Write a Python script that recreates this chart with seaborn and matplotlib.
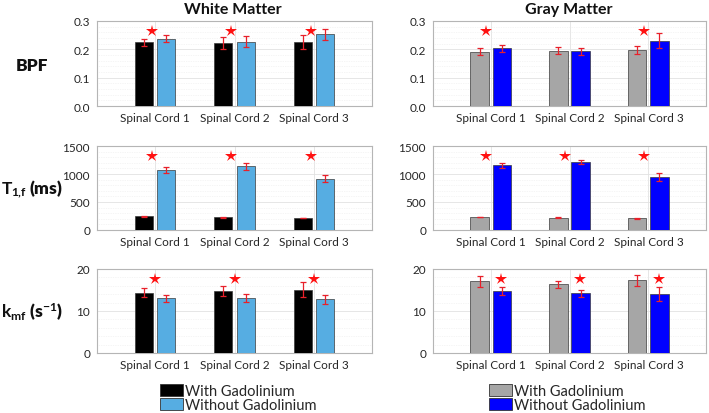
import numpy as np
import pandas as pd
import matplotlib
matplotlib.use("Agg")
import matplotlib.pyplot as plt
from matplotlib.ticker import AutoMinorLocator
from matplotlib.patches import Patch
from matplotlib.container import BarContainer
import seaborn as sns

sns.set_theme(style="white")
plt.rcParams['font.family'] = ['Lato', 'DejaVu Sans']
plt.rcParams['mathtext.fontset'] = 'custom'
plt.rcParams['mathtext.rm'] = 'Lato'
plt.rcParams['mathtext.bf'] = 'Lato:bold'
plt.rcParams['mathtext.it'] = 'Lato:italic'

# ---------------- data ----------------
cords = ["Spinal Cord 1", "Spinal Cord 2", "Spinal Cord 3"]
groups = ["With Gadolinium", "Without Gadolinium"]

wm_bpf_with = [0.225, 0.223, 0.225]
wm_bpf_with_err = [0.013, 0.021, 0.024]
wm_bpf_without = [0.237, 0.227, 0.253]
wm_bpf_without_err = [0.012, 0.020, 0.020]

gm_bpf_with = [0.191, 0.195, 0.197]
gm_bpf_with_err = [0.0125, 0.013, 0.015]
gm_bpf_without = [0.204, 0.193, 0.231]
gm_bpf_without_err = [0.0125, 0.013, 0.0275]

wm_t1_with = [245, 227, 215]
wm_t1_with_err = [6, 5, 6]
wm_t1_without = [1076, 1135, 914]
wm_t1_without_err = [55, 65, 63]

gm_t1_with = [234, 222, 210]
gm_t1_with_err = [6, 5, 5]
gm_t1_without = [1160, 1212, 942]
gm_t1_without_err = [45, 36, 70]

wm_k_with = [14.4, 14.7, 15.1]
wm_k_with_err = [1.07, 1.2, 1.8]
wm_k_without = [13.0, 13.1, 12.8]
wm_k_without_err = [0.83, 0.87, 1.1]

gm_k_with = [17.1, 16.4, 17.3]
gm_k_with_err = [1.3, 0.83, 1.26]
gm_k_without = [14.7, 14.2, 14.0]
gm_k_without_err = [0.9, 0.9, 1.6]

# significance markers per panel (True = star shown above group)
wm_bpf_sig = [True, True, True]
gm_bpf_sig = [True, False, True]
wm_t1_sig = [True, True, True]
gm_t1_sig = [True, True, True]
wm_k_sig = [True, True, True]
gm_k_sig = [True, True, True]

bpf_ticks = [0, 0.1, 0.2, 0.3]
t1_ticks = [0, 500, 1000, 1500]
k_ticks = [0, 10, 20]

# ---------------- styles ----------------
wm_colors = ["#000000", "#56ade2"]
gm_colors = ["#a6a6a6", "#0000ff"]
err_color = "#e8202a"
star_color = "#ff1010"

W, H = 709, 414
fig = plt.figure(figsize=(W / 100, H / 100), dpi=100)

col_x = [(97, 372), (433, 706)]
row_y = [(22, 107), (147, 231), (270, 354)]

def ax_rect(c, r):
    x0, x1 = col_x[c]
    y0, y1 = row_y[r]
    return [x0 / W, 1 - y1 / H, (x1 - x0) / W, (y1 - y0) / H]

panels = [
    (0, 0, wm_bpf_with, wm_bpf_with_err, wm_bpf_without, wm_bpf_without_err, wm_colors, bpf_ticks, wm_bpf_sig, -0.04),
    (1, 0, gm_bpf_with, gm_bpf_with_err, gm_bpf_without, gm_bpf_without_err, gm_colors, bpf_ticks, gm_bpf_sig, -0.06),
    (0, 1, wm_t1_with, wm_t1_with_err, wm_t1_without, wm_t1_without_err, wm_colors, t1_ticks, wm_t1_sig, -0.04),
    (1, 1, gm_t1_with, gm_t1_with_err, gm_t1_without, gm_t1_without_err, gm_colors, t1_ticks, gm_t1_sig, -0.06),
    (0, 2, wm_k_with, wm_k_with_err, wm_k_without, wm_k_without_err, wm_colors, k_ticks, wm_k_sig, 0.0),
    (1, 2, gm_k_with, gm_k_with_err, gm_k_without, gm_k_without_err, gm_colors, k_ticks, gm_k_sig, 0.135),
]

tick_color = "#262626"
for (c, r, vw, ew, vwo, ewo, colors, ticks, sig, sdx) in panels:
    ax = fig.add_axes(ax_rect(c, r))
    df = pd.DataFrame({
        "cord": cords * 2,
        "group": [groups[0]] * 3 + [groups[1]] * 3,
        "val": list(vw) + list(vwo),
    })
    sns.barplot(data=df, x="cord", y="val", hue="group", hue_order=groups,
                palette=colors, width=0.56, gap=0.18, errorbar=None,
                edgecolor="#3a3a3a", linewidth=0.5, legend=False, ax=ax,
                zorder=3, saturation=1)
    errs = [ew, ewo]
    vals = [vw, vwo]
    bar_conts = [cn for cn in ax.containers if isinstance(cn, BarContainer)]
    for gi, cont in enumerate(bar_conts):
        xs = [p.get_x() + p.get_width() / 2 for p in cont.patches]
        ax.errorbar(xs, vals[gi], yerr=errs[gi], fmt="none", ecolor=err_color,
                    elinewidth=0.9, capsize=2, capthick=0.9, zorder=4)
    for i, s in enumerate(sig):
        if s:
            ax.plot([i + sdx], [0.885], transform=ax.get_xaxis_transform(),
                    marker="*", markersize=9, color=star_color,
                    markeredgewidth=0, linestyle="none", zorder=5)
    ax.set_xlim(-0.73, 2.73)
    ax.set_ylim(ticks[0], ticks[-1])
    ax.set_yticks(ticks)
    ax.yaxis.set_minor_locator(AutoMinorLocator(5))
    ax.set_xlabel("")
    ax.set_ylabel("")
    ax.grid(True, which="major", axis="both", color="#e2e2e2", linewidth=0.6, zorder=0)
    ax.grid(True, which="minor", axis="y", color="#ececec", linewidth=0.5,
            linestyle=(0, (1, 1.5)), zorder=0)
    ax.set_axisbelow(True)
    for sp in ax.spines.values():
        sp.set_color("#b5b5b5")
        sp.set_linewidth(0.8)
        sp.set_visible(True)
    ax.tick_params(axis="both", which="major", direction="in", length=3,
                   width=0.6, color="#b5b5b5", labelsize=8.5, labelcolor=tick_color)
    ax.tick_params(axis="y", which="major", pad=5)
    ax.tick_params(axis="x", which="major", pad=4, top=False)
    ax.tick_params(axis="y", which="minor", length=0)
    ax.tick_params(axis="y", right=False)

# column titles
fig.text(233 / W, 1 - 10 / H, "White Matter", ha="center", va="center",
         fontsize=11.5, fontweight="bold", color="#111111")
fig.text(569 / W, 1 - 10 / H, "Gray Matter", ha="center", va="center",
         fontsize=11.5, fontweight="bold", color="#111111")

# row labels
lab_x = 32 / W
fig.text(lab_x, 1 - 66 / H, "BPF", ha="center", va="center",
         fontsize=12.5, fontweight="heavy", color="#111111")
fig.text(lab_x, 1 - 189 / H, r"$\mathbf{T_{1\!,\!f}}$" + " (ms)", ha="center", va="center",
         fontsize=12.5, fontweight="heavy", color="#111111")
fig.text(lab_x, 1 - 312 / H, r"$\mathbf{k_{mf}}$" + r" (s$\mathbf{^{-1}}$)", ha="center",
         va="center", fontsize=12.5, fontweight="heavy", color="#111111")

# legends
def add_legend(colors, x_px):
    handles = [Patch(facecolor=colors[0], edgecolor="#333333", linewidth=0.6),
               Patch(facecolor=colors[1], edgecolor="#333333", linewidth=0.6)]
    fig.legend(handles, groups, loc="upper left",
               bbox_to_anchor=(x_px / W, 1 - 385 / H), frameon=False,
               fontsize=10.5, handlelength=1.55, handleheight=0.9,
               handletextpad=0.15, labelspacing=0.0, borderpad=0,
               borderaxespad=0)

add_legend(wm_colors, 160)
add_legend(gm_colors, 489)

fig.savefig("out.png", dpi=100)
